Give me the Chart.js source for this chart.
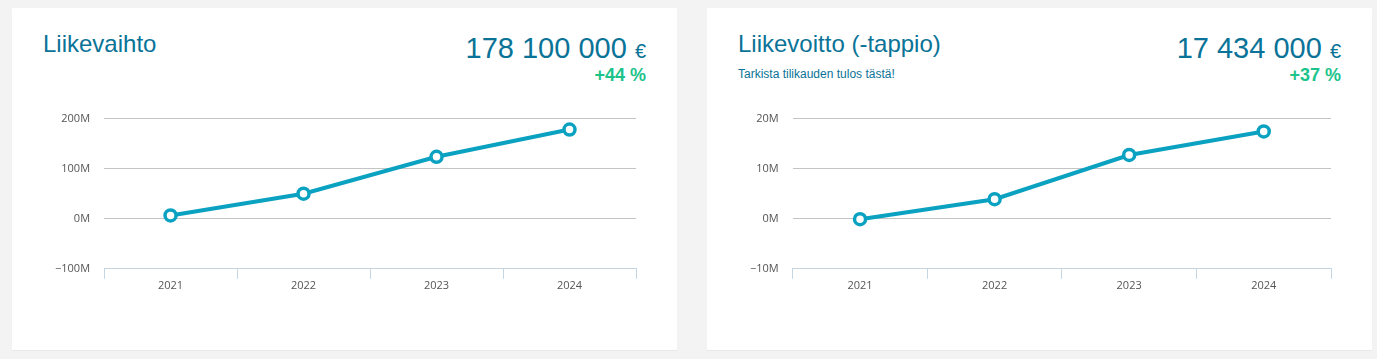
<!DOCTYPE html>
<html lang="fi">
<head>
<meta charset="utf-8">
<title>Liikevaihto ja liikevoitto</title>
<script src="https://cdn.jsdelivr.net/npm/chart.js@4"></script>
<style>
  html, body { margin: 0; padding: 0; }
  body { width: 1377px; height: 359px; background: #f3f3f3; position: relative; overflow: hidden;
         font-family: "Liberation Sans", Arial, sans-serif; }
  .kortti { position: absolute; top: 8px; width: 665px; height: 342px; background: #fff;
            box-shadow: 0 1px 1px rgba(0,0,0,0.04); }
  .otsikko { position: absolute; left: 31px; top: 24px; font-size: 24px; line-height: 24px; color: #0a7397; }
  .ali { position: absolute; left: 31px; top: 60px; font-size: 12px; line-height: 12px; color: #0a7397; }
  .summa { position: absolute; right: 31px; top: 26px; font-size: 29px; line-height: 29px; color: #0a7397; white-space: nowrap; }
  .summa span { font-size: 20px; }
  .muutos { position: absolute; right: 31px; top: 58px; font-size: 18px; line-height: 18px; font-weight: bold; color: #1cc38b; }
  .kuvaaja { position: absolute; left: 29px; top: 90px; }
</style>
</head>
<body>

<div class="kortti" style="left:12px">
  <div class="otsikko">Liikevaihto</div>
  <div class="summa">178 100 000 <span>€</span></div>
  <div class="muutos">+44 %</div>
  <canvas class="kuvaaja" id="liikevaihtoChart" width="604" height="200"></canvas>
</div>

<div class="kortti" style="left:707px">
  <div class="otsikko">Liikevoitto (-tappio)</div>
  <div class="ali">Tarkista tilikauden tulos tästä!</div>
  <div class="summa">17 434 000 <span>€</span></div>
  <div class="muutos">+37 %</div>
  <canvas class="kuvaaja" id="liikevoittoChart" width="604" height="200"></canvas>
</div>

<script>
/*---- data ----- */

var vuodet = ["2021", "2022", "2023", "2024"];
var liikevaihto = [6.6e6, 50e6, 123.7e6, 178.1e6];
var liikevoitto = [-0.1e6, 3.9e6, 12.73e6, 17.434e6];
var liikevaihtoAsteikko = [-100e6, 200e6, 100e6];   // min, max, askel
var liikevoittoAsteikko = [-10e6, 20e6, 10e6];

var viiva = '#0ba2c2';
var tekstiVari = '#555';

function miljoonat(v) {
    var s = Math.round(v / 1e6) + 'M';
    return s.replace('-', '\u2212');
}

function asetukset(asteikko) {
    return {
        responsive: false,
        animation: false,
        layout: { padding: { top: 14, right: 5, bottom: 6, left: 0 } },
        plugins: { legend: { display: false }, tooltip: { enabled: false } },
        scales: {
            x: {
                offset: true,
                grid: { offset: true, drawOnChartArea: false, tickLength: 10, color: '#c6d5e2' },
                border: { color: '#c6d5e2' },
                ticks: { color: tekstiVari, padding: 0, font: { family: 'Open Sans', size: 11 } }
            },
            y: {
                min: asteikko[0],
                max: asteikko[1],
                grid: { drawTicks: false, color: '#c4c4c4' },
                border: { display: false },
                ticks: {
                    stepSize: asteikko[2],
                    padding: 14,
                    color: tekstiVari,
                    font: { family: 'Open Sans', size: 11 },
                    callback: function (v) { return miljoonat(v); }
                }
            }
        }
    };
}

function sarja(arvot) {
    return {
        data: arvot,
        borderColor: viiva,
        borderWidth: 4,
        tension: 0,
        pointRadius: 5.5,
        pointBorderWidth: 3.5,
        pointBackgroundColor: '#fff',
        pointBorderColor: viiva
    };
}

/*---- Liikevaihto ----- */

var ctx = document.getElementById('liikevaihtoChart').getContext('2d');
var liikevaihtoChart = new Chart(ctx, {
    type: 'line',
    data: { labels: vuodet, datasets: [sarja(liikevaihto)] },
    options: asetukset(liikevaihtoAsteikko)
});

/*---- Liikevoitto ----- */

var ctx = document.getElementById('liikevoittoChart').getContext('2d');
var liikevoittoChart = new Chart(ctx, {
    type: 'line',
    data: { labels: vuodet, datasets: [sarja(liikevoitto)] },
    options: asetukset(liikevoittoAsteikko)
});
</script>
</body>
</html>
